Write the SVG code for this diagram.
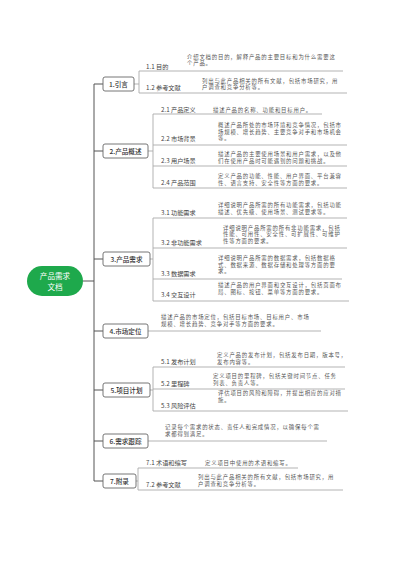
<svg xmlns="http://www.w3.org/2000/svg" width="400" height="565" viewBox="0 0 400 565">
<style>
text{font-family:"Noto Sans CJK SC","Noto Sans",sans-serif}
.box{fill:#fff;stroke:#666;stroke-width:0.9}
.nt{font-size:6.6px;fill:#333;text-anchor:middle;font-weight:500}
.lb{font-size:6.2px;fill:#444}
.ds{font-size:5.4px;letter-spacing:0.8px;fill:#555}
.trunk{stroke:#555;stroke-width:1;fill:none}
.br{stroke:#aaa;stroke-width:0.9;fill:none}
</style>
<rect width="400" height="565" fill="#fff"/>
<g id="connectors">
<path class="trunk" d="M83 281H94M94 84V481M94 84H103M94 151H103M94 259H103M94 331H103M94 390H103M94 441H103M94 481H103"/>
<path class="br" d="M134 84H139M139 71V93M139 71H343M139 93H347"/>
<path class="br" d="M148 151H153M153 114V188M153 114H322M153 145H347M153 166H347M153 188H347"/>
<path class="br" d="M150 259H153M153 218V301M153 218H347M153 248H347M153 279H342M153 301H349"/>
<path class="br" d="M148 331H321"/>
<path class="br" d="M150 390H153M153 367V411M153 367H345M153 389H345M153 411H348"/>
<path class="br" d="M148 441H327"/>
<path class="br" d="M136 481H138M138 468V490M138 468H298M138 490H343"/>
</g>
<g id="root">
<rect x="27" y="266" width="56" height="30" rx="15" fill="#1ea94c"/>
<text x="55" y="279" font-size="7.6" fill="#fff" text-anchor="middle">产品需求</text>
<text x="55" y="290" font-size="7.6" fill="#fff" text-anchor="middle">文档</text>
</g>
<g id="n1">
<rect class="box" x="103" y="77" width="31" height="14" rx="2"/>
<text class="nt" x="118.5" y="86.5">1.引言</text>
<text class="lb" x="146" y="69">1.1 目的</text>
<text class="ds" x="187" y="58.5">介绍文档的目的，解释产品的主要目标和为什么需要这<tspan x="187" y="65">个产品。</tspan></text>
<text class="lb" x="146" y="90">1.2 参考文献</text>
<text class="ds" x="202" y="82.5">列出与此产品相关的所有文献，包括市场研究，用<tspan x="202" y="89">户调查和竞争分析等。</tspan></text>
</g>
<g id="n2">
<rect class="box" x="103" y="144" width="45" height="14" rx="2"/>
<text class="nt" x="125.5" y="153.5">2.产品概述</text>
<text class="lb" x="161" y="112">2.1 产品定义</text>
<text class="ds" x="213" y="112">描述产品的名称、功能和目标用户。</text>
<text class="lb" x="161" y="141">2.2 市场背景</text>
<text class="ds" x="218" y="127">概述产品所处的市场环境和竞争情况，包括市<tspan x="218" y="133.5">场规模、增长趋势、主要竞争对手和市场机会</tspan><tspan x="218" y="140">等。</tspan></text>
<text class="lb" x="161" y="163">2.3 用户场景</text>
<text class="ds" x="218" y="156">描述产品的主要使用场景和用户需求，以及他<tspan x="218" y="162.5">们在使用产品时可能遇到的问题和挑战。</tspan></text>
<text class="lb" x="161" y="185">2.4 产品范围</text>
<text class="ds" x="218" y="178">定义产品的功能、性能、用户界面、平台兼容<tspan x="218" y="184.5">性、语言支持、安全性等方面的要求。</tspan></text>
</g>
<g id="n3">
<rect class="box" x="103" y="252" width="47" height="14" rx="2"/>
<text class="nt" x="126.5" y="261.5">3.产品需求</text>
<text class="lb" x="161" y="215">3.1 功能需求</text>
<text class="ds" x="218" y="207">详细说明产品所需的所有功能需求，包括功能<tspan x="218" y="213.5">描述、优先级、使用场景、测试要求等。</tspan></text>
<text class="lb" x="161" y="245">3.2 非功能需求</text>
<text class="ds" x="223" y="229.5">详细说明产品所需的所有非功能需求，包括<tspan x="223" y="236">性能、可用性、安全性、可扩展性、可维护</tspan><tspan x="223" y="242.5">性等方面的要求。</tspan></text>
<text class="lb" x="161" y="276">3.3 数据需求</text>
<text class="ds" x="218" y="260">详细说明产品所需的数据需求，包括数据格<tspan x="218" y="266.5">式、数据来源、数据存储和处理等方面的要</tspan><tspan x="218" y="273">求。</tspan></text>
<text class="lb" x="161" y="297">3.4 交互设计</text>
<text class="ds" x="218" y="287">描述产品的用户界面和交互设计，包括页面布<tspan x="218" y="293.5">局、图标、按钮、菜单等方面的要求。</tspan></text>
</g>
<g id="n4">
<rect class="box" x="103" y="324" width="45" height="14" rx="2"/>
<text class="nt" x="125.5" y="333.5">4.市场定位</text>
<text class="ds" x="161" y="319">描述产品的市场定位，包括目标市场、目标用户、市场<tspan x="161" y="325.5">规模、增长趋势、竞争对手等方面的要求。</tspan></text>
</g>
<g id="n5">
<rect class="box" x="103" y="383" width="47" height="14" rx="2"/>
<text class="nt" x="126.5" y="392.5">5.项目计划</text>
<text class="lb" x="161" y="364">5.1 发布计划</text>
<text class="ds" x="217" y="357">定义产品的发布计划，包括发布日期，版本号，<tspan x="217" y="363.5">发布内容等。</tspan></text>
<text class="lb" x="161" y="386">5.2 里程碑</text>
<text class="ds" x="213" y="378">定义项目的里程碑，包括关键时间节点、任务<tspan x="213" y="384.5">列表、负责人等。</tspan></text>
<text class="lb" x="161" y="408">5.3 风险评估</text>
<text class="ds" x="218" y="395">评估项目的风险和障碍，并提出相应的应对措<tspan x="218" y="401.5">施。</tspan></text>
</g>
<g id="n6">
<rect class="box" x="103" y="434" width="45" height="14" rx="2"/>
<text class="nt" x="125.5" y="443.5">6.需求跟踪</text>
<text class="ds" x="165" y="429">记录每个需求的状态、责任人和完成情况，以确保每个需<tspan x="165" y="435.5">求都得到满足。</tspan></text>
</g>
<g id="n7">
<rect class="box" x="103" y="474" width="33" height="14" rx="2"/>
<text class="nt" x="119.5" y="483.5">7.附录</text>
<text class="lb" x="146" y="465">7.1 术语和缩写</text>
<text class="ds" x="205" y="465">定义项目中使用的术语和缩写。</text>
<text class="lb" x="146" y="487">7.2 参考文献</text>
<text class="ds" x="198" y="479">列出与此产品相关的所有文献，包括市场研究，用<tspan x="198" y="485.5">户调查和竞争分析等。</tspan></text>
</g>
</svg>
